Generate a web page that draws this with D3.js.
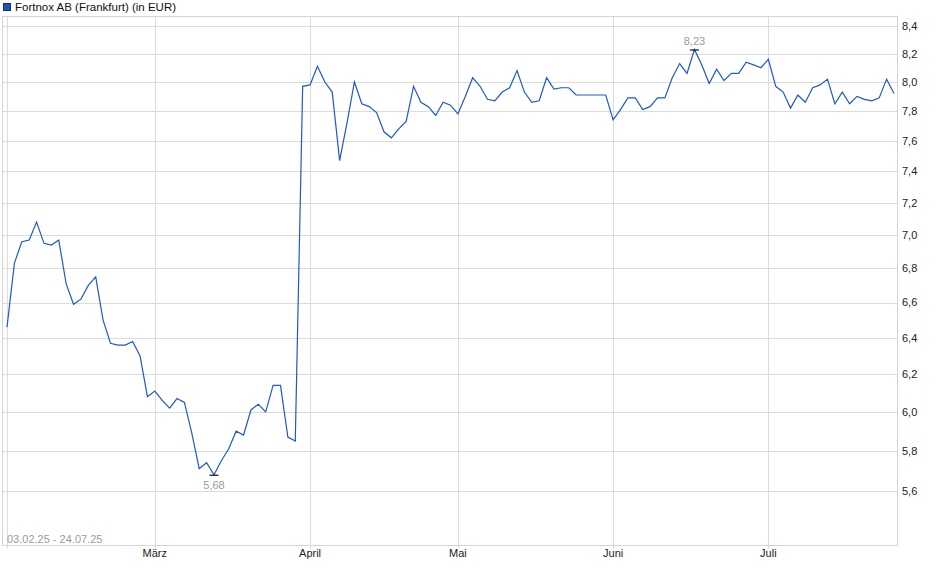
<!DOCTYPE html>
<html>
<head>
<meta charset="utf-8">
<script src="https://cdn.jsdelivr.net/npm/d3@7"></script>
<style>
  body { margin: 0; background: #fff; }
  svg text { font-family: "Liberation Sans", Arial, sans-serif; }
</style>
</head>
<body>
<div id="chart"></div>
<script>
// chart data
const title = "Fortnox AB (Frankfurt) (in EUR)";
const rangeLabel = "03.02.25 - 24.07.25";
const firstDay = "2025-02-03";
const lastDay = "2025-07-24";
const holidays = ["2025-04-18", "2025-04-21", "2025-05-01"];
const monthLabels = [["2025-03", "März"], ["2025-04", "April"], ["2025-05", "Mai"], ["2025-06", "Juni"], ["2025-07", "Juli"]];
const yTicks = [5.6, 5.8, 6.0, 6.2, 6.4, 6.6, 6.8, 7.0, 7.2, 7.4, 7.6, 7.8, 8.0, 8.2, 8.4];

// closing prices, one per trading day
const closes = [
  6.46, 6.83, 6.96, 6.97, 7.08, 6.95, 6.94, 6.97, 6.71, 6.59,
  6.62, 6.70, 6.75, 6.50, 6.37, 6.36, 6.36, 6.38, 6.30, 6.08,
  6.11, 6.06, 6.02, 6.07, 6.05, 5.89, 5.71, 5.74, 5.68, 5.75,
  5.81, 5.90, 5.88, 6.01, 6.04, 6.00, 6.14, 6.14, 5.87, 5.85,
  7.97, 7.98, 8.11, 8.00, 7.93, 7.47, 7.72, 8.00, 7.85, 7.83,
  7.79, 7.66, 7.62, 7.68, 7.73, 7.97, 7.86, 7.83, 7.77, 7.86,
  7.84, 7.78, 7.90, 8.03, 7.97, 7.88, 7.87, 7.93, 7.96, 8.08,
  7.93, 7.86, 7.87, 8.03, 7.95, 7.96, 7.96, 7.91, 7.91, 7.91,
  7.91, 7.91, 7.74, 7.81, 7.89, 7.89, 7.81, 7.83, 7.89, 7.89,
  8.03, 8.13, 8.06, 8.23, 8.12, 7.99, 8.09, 8.01, 8.06, 8.06,
  8.14, 8.12, 8.10, 8.16, 7.97, 7.93, 7.82, 7.91, 7.86, 7.96,
  7.98, 8.02, 7.85, 7.93, 7.85, 7.90, 7.88, 7.87, 7.89, 8.02,
  7.92
];

const width = 940, height = 579;
const plot = { left: 2.5, right: 897.5, top: 16.5, bottom: 545.5 };

const fmtDay = d3.timeFormat("%Y-%m-%d");
const parseDay = d3.timeParse("%Y-%m-%d");

// trading calendar (weekdays without exchange holidays)
const days = d3.timeDay.range(parseDay(firstDay), d3.timeDay.offset(parseDay(lastDay), 1))
  .filter(d => d.getDay() !== 0 && d.getDay() !== 6 && !holidays.includes(fmtDay(d)))
  .map(fmtDay);

const data = days.map((d, i) => ({ day: d, value: closes[i] }));

const x = d3.scalePoint()
  .domain(days)
  .range([7, 894]);

const y = d3.scaleLog()
  .domain([5.34, 8.474])
  .range([545.5, 16]);

const comma = v => d3.format(".1f")(v).replace(".", ",");
const comma2 = v => d3.format(".2f")(v).replace(".", ",");

const svg = d3.select("#chart").append("svg")
  .attr("width", width)
  .attr("height", height);

svg.append("rect")
  .attr("width", width)
  .attr("height", height)
  .attr("fill", "#fff");

// title with legend square
svg.append("rect")
  .attr("x", 3.5).attr("y", 3.5)
  .attr("width", 7).attr("height", 7)
  .attr("fill", "#1c55b5")
  .attr("stroke", "#0f3275");

svg.append("text")
  .attr("x", 15)
  .attr("y", 11)
  .style("font-size", "11.5px")
  .attr("fill", "#111")
  .text(title);

// horizontal grid
svg.append("g")
  .selectAll("line")
  .data(yTicks)
  .join("line")
  .attr("x1", plot.left).attr("x2", plot.right)
  .attr("y1", d => Math.round(y(d)) + 0.5)
  .attr("y2", d => Math.round(y(d)) + 0.5)
  .attr("stroke", "#dcdcdc");

// vertical grid: start day and first trading day of each month
const monthStarts = monthLabels.map(([m, label]) => ({
  day: days.find(d => d.startsWith(m)),
  label: label
}));
const vLines = [days[0]].concat(monthStarts.map(m => m.day));

svg.append("g")
  .selectAll("line")
  .data(vLines)
  .join("line")
  .attr("x1", d => Math.round(x(d)) + 0.5)
  .attr("x2", d => Math.round(x(d)) + 0.5)
  .attr("y1", plot.top)
  .attr("y2", plot.bottom + 3)
  .attr("stroke", "#dcdcdc");

// frame
svg.append("rect")
  .attr("x", plot.left).attr("y", plot.top)
  .attr("width", plot.right - plot.left)
  .attr("height", plot.bottom - plot.top)
  .attr("fill", "none")
  .attr("stroke", "#d4d4d4");

// y labels on the right
svg.append("g")
  .selectAll("text")
  .data(yTicks)
  .join("text")
  .attr("x", 902)
  .attr("y", d => y(d))
  .attr("dy", "0.35em")
  .style("font-size", "11px")
  .attr("fill", "#222")
  .text(comma);

// month labels
svg.append("g")
  .selectAll("text")
  .data(monthStarts)
  .join("text")
  .attr("x", d => x(d.day))
  .attr("y", 557)
  .attr("text-anchor", "middle")
  .style("font-size", "11px")
  .attr("fill", "#222")
  .text(d => d.label);

// date range
svg.append("text")
  .attr("x", 7)
  .attr("y", 543)
  .style("font-size", "11px")
  .attr("fill", "#a09a94")
  .text(rangeLabel);

// price line
const line = d3.line()
  .x(d => x(d.day))
  .y(d => y(d.value));

svg.append("path")
  .datum(data)
  .attr("d", line)
  .attr("fill", "none")
  .attr("stroke", "#1c5bc2")
  .attr("stroke-width", 1.2);

// min / max markers
const minPt = data[d3.minIndex(data, d => d.value)];
const maxPt = data[d3.maxIndex(data, d => d.value)];
const marks = [
  { pt: minPt, below: true },
  { pt: maxPt, below: false }
];

const mg = svg.append("g")
  .selectAll("g")
  .data(marks)
  .join("g")
  .attr("transform", d => "translate(" + x(d.pt.day) + "," + y(d.pt.value) + ")");

mg.append("rect")
  .attr("x", -13)
  .attr("y", d => d.below ? 5 : -15)
  .attr("width", 26)
  .attr("height", 11)
  .attr("fill", "#fff");

mg.append("line")
  .attr("x1", -4.5).attr("x2", 4.5)
  .attr("y1", 0.5).attr("y2", 0.5)
  .attr("stroke", "#111")
  .attr("stroke-width", 1.2);

mg.append("text")
  .attr("y", d => d.below ? 14 : -5)
  .attr("text-anchor", "middle")
  .style("font-size", "11px")
  .attr("fill", "#a09a94")
  .text(d => comma2(d.pt.value));
</script>
</body>
</html>
